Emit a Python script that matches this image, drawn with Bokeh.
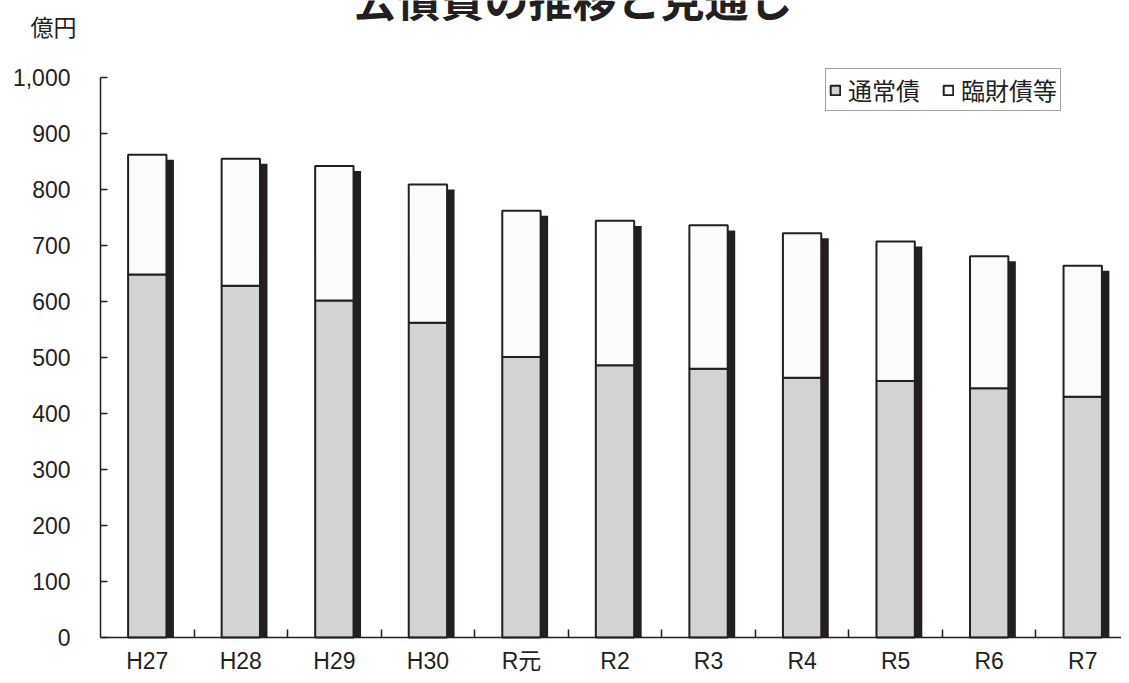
from bokeh.plotting import figure
from bokeh.models import Range1d, FixedTicker, Label, Legend, LegendItem, ColumnDataSource
from bokeh.embed import file_html
from bokeh.resources import INLINE

# ---- data ----
categories = ["H27", "H28", "H29", "H30", "R元", "R2", "R3", "R4", "R5", "R6", "R7"]
tsujo = [648, 628, 602, 562, 501, 486, 480, 464, 458, 445, 430]     # 通常債
rinzai = [214, 227, 240, 247, 261, 258, 256, 258, 249, 236, 234]    # 臨財債等
y_ticks = [0, 100, 200, 300, 400, 500, 600, 700, 800, 900, 1000]
y_tick_labels = ["0", "100", "200", "300", "400", "500", "600", "700", "800", "900", "1,000"]
title_text = "公債費の推移と見通し"
unit_text = "億円"
series_names = ["通常債", "臨財債等"]

# ---- layout constants (pixels) ----
W, H = 1121, 675
X0_PX = 100          # x of the value axis
Y0_PX = 637          # y (from top) of the zero line
Y1000_PX = 77        # y (from top) of 1,000
n = len(categories)
cat_px = (W + 8 - X0_PX) / n
val_px = (Y0_PX - Y1000_PX) / 1000.0

x_start = -X0_PX / cat_px
x_end = (W - X0_PX) / cat_px
y_start = -(H - Y0_PX) / val_px
y_end = 1000 + Y1000_PX / val_px

# ---- derived ----
xs = [i + 0.5 for i in range(n)]
totals = [a + b for a, b in zip(tsujo, rinzai)]
BAR_W = 0.41
SH_DX = 0.08
SH_DY = 9
src = ColumnDataSource(dict(
    x=xs, xs=[x + SH_DX for x in xs], tsujo=tsujo, total=totals,
    shadow=[t - SH_DY for t in totals],
))

DARK = "#231f20"
FONT = "Liberation Sans, Noto Sans CJK JP"
CJK = "Noto Sans CJK JP"

p = figure(width=W, height=H, output_backend="svg", toolbar_location=None,
           x_range=Range1d(x_start, x_end), y_range=Range1d(y_start, y_end),
           min_border=0)
p.outline_line_color = None
p.grid.visible = False
p.background_fill_color = "white"
p.border_fill_color = "white"

p.vbar(x="xs", top="shadow", bottom=0, width=BAR_W, source=src,
       fill_color=DARK, line_color=None)
r_grey = p.vbar(x="x", top="tsujo", bottom=0, width=BAR_W, source=src,
                fill_color="#d1d3d4", line_color=DARK, line_width=2)
r_white = p.vbar(x="x", top="total", bottom="tsujo", width=BAR_W, source=src,
                 fill_color="#fbfbfb", line_color=DARK, line_width=2)

# axes
xa = p.xaxis[0]
xa.fixed_location = 0
xa.bounds = (0, n)
xa.ticker = FixedTicker(ticks=xs, minor_ticks=list(range(1, n)))
xa.major_label_overrides = {x: c for x, c in zip(xs, categories)}
xa.major_tick_line_color = None
xa.minor_tick_in = 8
xa.minor_tick_out = 0
xa.minor_tick_line_color = DARK
xa.minor_tick_line_width = 1.5
xa.axis_line_color = DARK
xa.axis_line_width = 1.5
xa.major_label_text_font = FONT
xa.major_label_text_font_size = "23px"
xa.major_label_text_color = DARK
xa.major_label_standoff = 4

ya = p.yaxis[0]
ya.fixed_location = 0
ya.bounds = (0, 1000)
ya.ticker = FixedTicker(ticks=y_ticks)
ya.major_label_overrides = {t: l for t, l in zip(y_ticks, y_tick_labels)}
ya.major_tick_in = 7
ya.major_tick_out = 0
ya.major_tick_line_color = DARK
ya.major_tick_line_width = 1.5
ya.minor_tick_line_color = None
ya.axis_line_color = DARK
ya.axis_line_width = 1.5
ya.major_label_text_font = FONT
ya.major_label_text_font_size = "23px"
ya.major_label_text_color = DARK
ya.major_label_standoff = 30

# legend
legend = Legend(items=[LegendItem(label=series_names[0], renderers=[r_grey]),
                       LegendItem(label=series_names[1], renderers=[r_white])],
                orientation="horizontal", location=(825, H - 111), margin=0,
                padding=3, spacing=22, label_standoff=7,
                glyph_width=12, glyph_height=12,
                label_text_font=CJK, label_text_font_size="24px",
                label_text_color=DARK, label_height=20,
                border_line_color="#444444", border_line_width=1.5,
                background_fill_color="white", background_fill_alpha=1)
p.add_layout(legend, "center")

# texts
p.add_layout(Label(x=572, y=H + 3, x_units="screen", y_units="screen", text=title_text,
                   text_font=CJK, text_font_size="44px", text_font_style="bold",
                   text_align="center", text_baseline="middle", text_color=DARK))
p.add_layout(Label(x=30, y=H - 25, x_units="screen", y_units="screen", text=unit_text,
                   text_font=CJK, text_font_size="23px",
                   text_align="left", text_baseline="middle", text_color=DARK))

open("out.html", "w").write(file_html(p, INLINE))
